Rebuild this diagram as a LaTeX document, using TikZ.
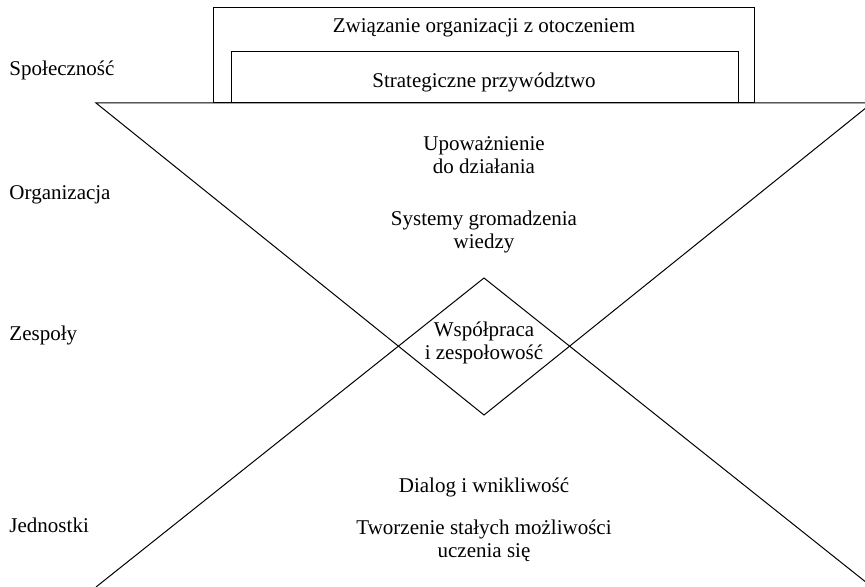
\documentclass[tikz,border=0pt]{standalone}
\usepackage{fontspec}
\setmainfont{Liberation Serif}
\usepackage{tikz}
\usetikzlibrary{positioning,calc}

\begin{document}
\begin{tikzpicture}[x=0.5pt,y=-0.5pt,line width=0.5pt,
  txt/.style={align=center,font=\fontsize{10.5}{11.6}\selectfont,inner sep=0pt},
  lvl/.style={anchor=west,font=\fontsize{10.5}{11.6}\selectfont,inner sep=0pt}]
% Picture frame (pixel units of the original)
\useasboundingbox (0,0) rectangle (865,587);
\clip (0,0) rectangle (865,587);

% Triangle geometry
\pgfmathsetmacro{\cx}{484} % axis of symmetry
\pgfmathsetmacro{\hw}{388} % half width of the triangles
\coordinate (topL) at ({\cx-\hw},103);
\coordinate (topR) at ({\cx+\hw},103);
\coordinate (apexB) at (\cx,415);
\coordinate (apexT) at (\cx,278);
\coordinate (botL) at ({\cx-\hw},587);
\coordinate (botR) at ({\cx+\hw},587);

% Boxes on top
\draw (213,8) rectangle (754,103);
\draw (231,52) rectangle (738,103);
\node[txt] (env) at (\cx,28) {Związanie organizacji z otoczeniem};
\node[txt] (lead) at (\cx,82) {Strategiczne przywództwo};

% Inverted and upright triangle
\draw (topL) -- (topR) -- (apexB) -- cycle;
\draw (botL) -- (apexT) -- (botR);

% Texts inside
\node[txt] (auth) at (\cx,155) {Upoważnienie\\do działania};
\node[txt] (know) at (\cx,232) {Systemy gromadzenia\\wiedzy};
\node[txt] (coop) at (\cx,343) {Współpraca\\i zespołowość};
\node[txt] (dial) at (\cx,487) {Dialog i wnikliwość};
\node[txt] (learn) at (\cx,541) {Tworzenie stałych możliwości\\uczenia się};

% Levels
\node[lvl] (soc) at (9,70) {Społeczność};
\node[lvl] (org) at (9,195) {Organizacja};
\node[lvl] (team) at (9,335) {Zespoły};
\node[lvl] (ind) at (9,525) {Jednostki};
\end{tikzpicture}
\end{document}
